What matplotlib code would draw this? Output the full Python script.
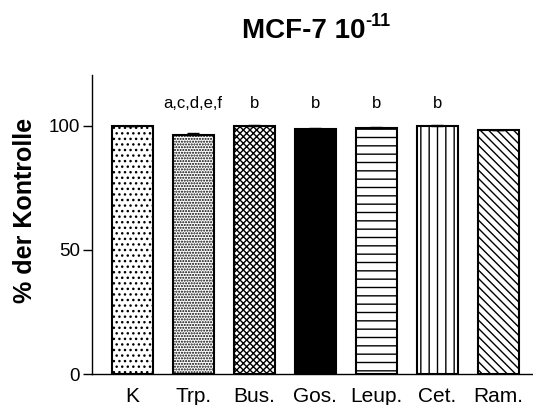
import matplotlib
matplotlib.use("Agg")
import matplotlib.pyplot as plt

plt.rcParams['font.family'] = ['Liberation Sans', 'DejaVu Sans']

labels = ['K', 'Trp.', 'Bus.', 'Gos.', 'Leup.', 'Cet.', 'Ram.']
values = [100.0, 96.4, 99.8, 98.7, 99.2, 100.1, 98.2]
errors = [0.0, 0.6, 0.4, 0.3, 0.3, 0.3, 0.3]
letters = ['', 'a,c,d,e,f', 'b', 'b', 'b', 'b', '']
hatches = ['...', '......', 'xxxxx', '', '--', '||', '\\\\\\\\']
faces = ['white', 'white', 'white', 'black', 'white', 'white', 'white']

fig = plt.figure(figsize=(5.33, 4.05), dpi=100)
ax = fig.add_axes([0.1726, 0.0765, 0.8274, 0.7385])

x = list(range(len(labels)))
bars = ax.bar(x, values, width=0.67, color=faces, edgecolor='black',
              linewidth=1.5)
for b, h in zip(bars, hatches):
    if h:
        b.set_hatch(h)
ax.errorbar(x, values, yerr=[[0] * len(errors), errors], fmt='none',
            ecolor='black', elinewidth=1, capsize=4, capthick=1)

for xi, t in zip(x, letters):
    if t:
        ax.text(xi, 107, t, ha='center', va='baseline', fontsize=12)

ax.set_xlim(-0.66, 6.57)
ax.set_ylim(0, 120.5)
ax.set_yticks([0, 50, 100])
ax.set_xticks(x)
ax.set_xticklabels(labels, fontsize=15)
ax.tick_params(axis='y', labelsize=13.5, length=6.5, width=1, pad=2)
ax.tick_params(axis='x', length=0, pad=9)
ax.spines['top'].set_visible(False)
ax.spines['right'].set_visible(False)
ax.spines['left'].set_linewidth(1)
ax.spines['bottom'].set_linewidth(1)
ax.set_ylabel('% der Kontrolle', fontsize=18, fontweight='bold')
ax.yaxis.set_label_coords(-0.125, 0.548)

# title with raised exponent
fig.text(0.685, 0.905, 'MCF-7 10', ha='right', va='baseline',
         fontsize=20, fontweight='bold')
fig.text(0.686, 0.937, '-11', ha='left', va='baseline',
         fontsize=13, fontweight='bold')

fig.savefig('out.png', dpi=100)
